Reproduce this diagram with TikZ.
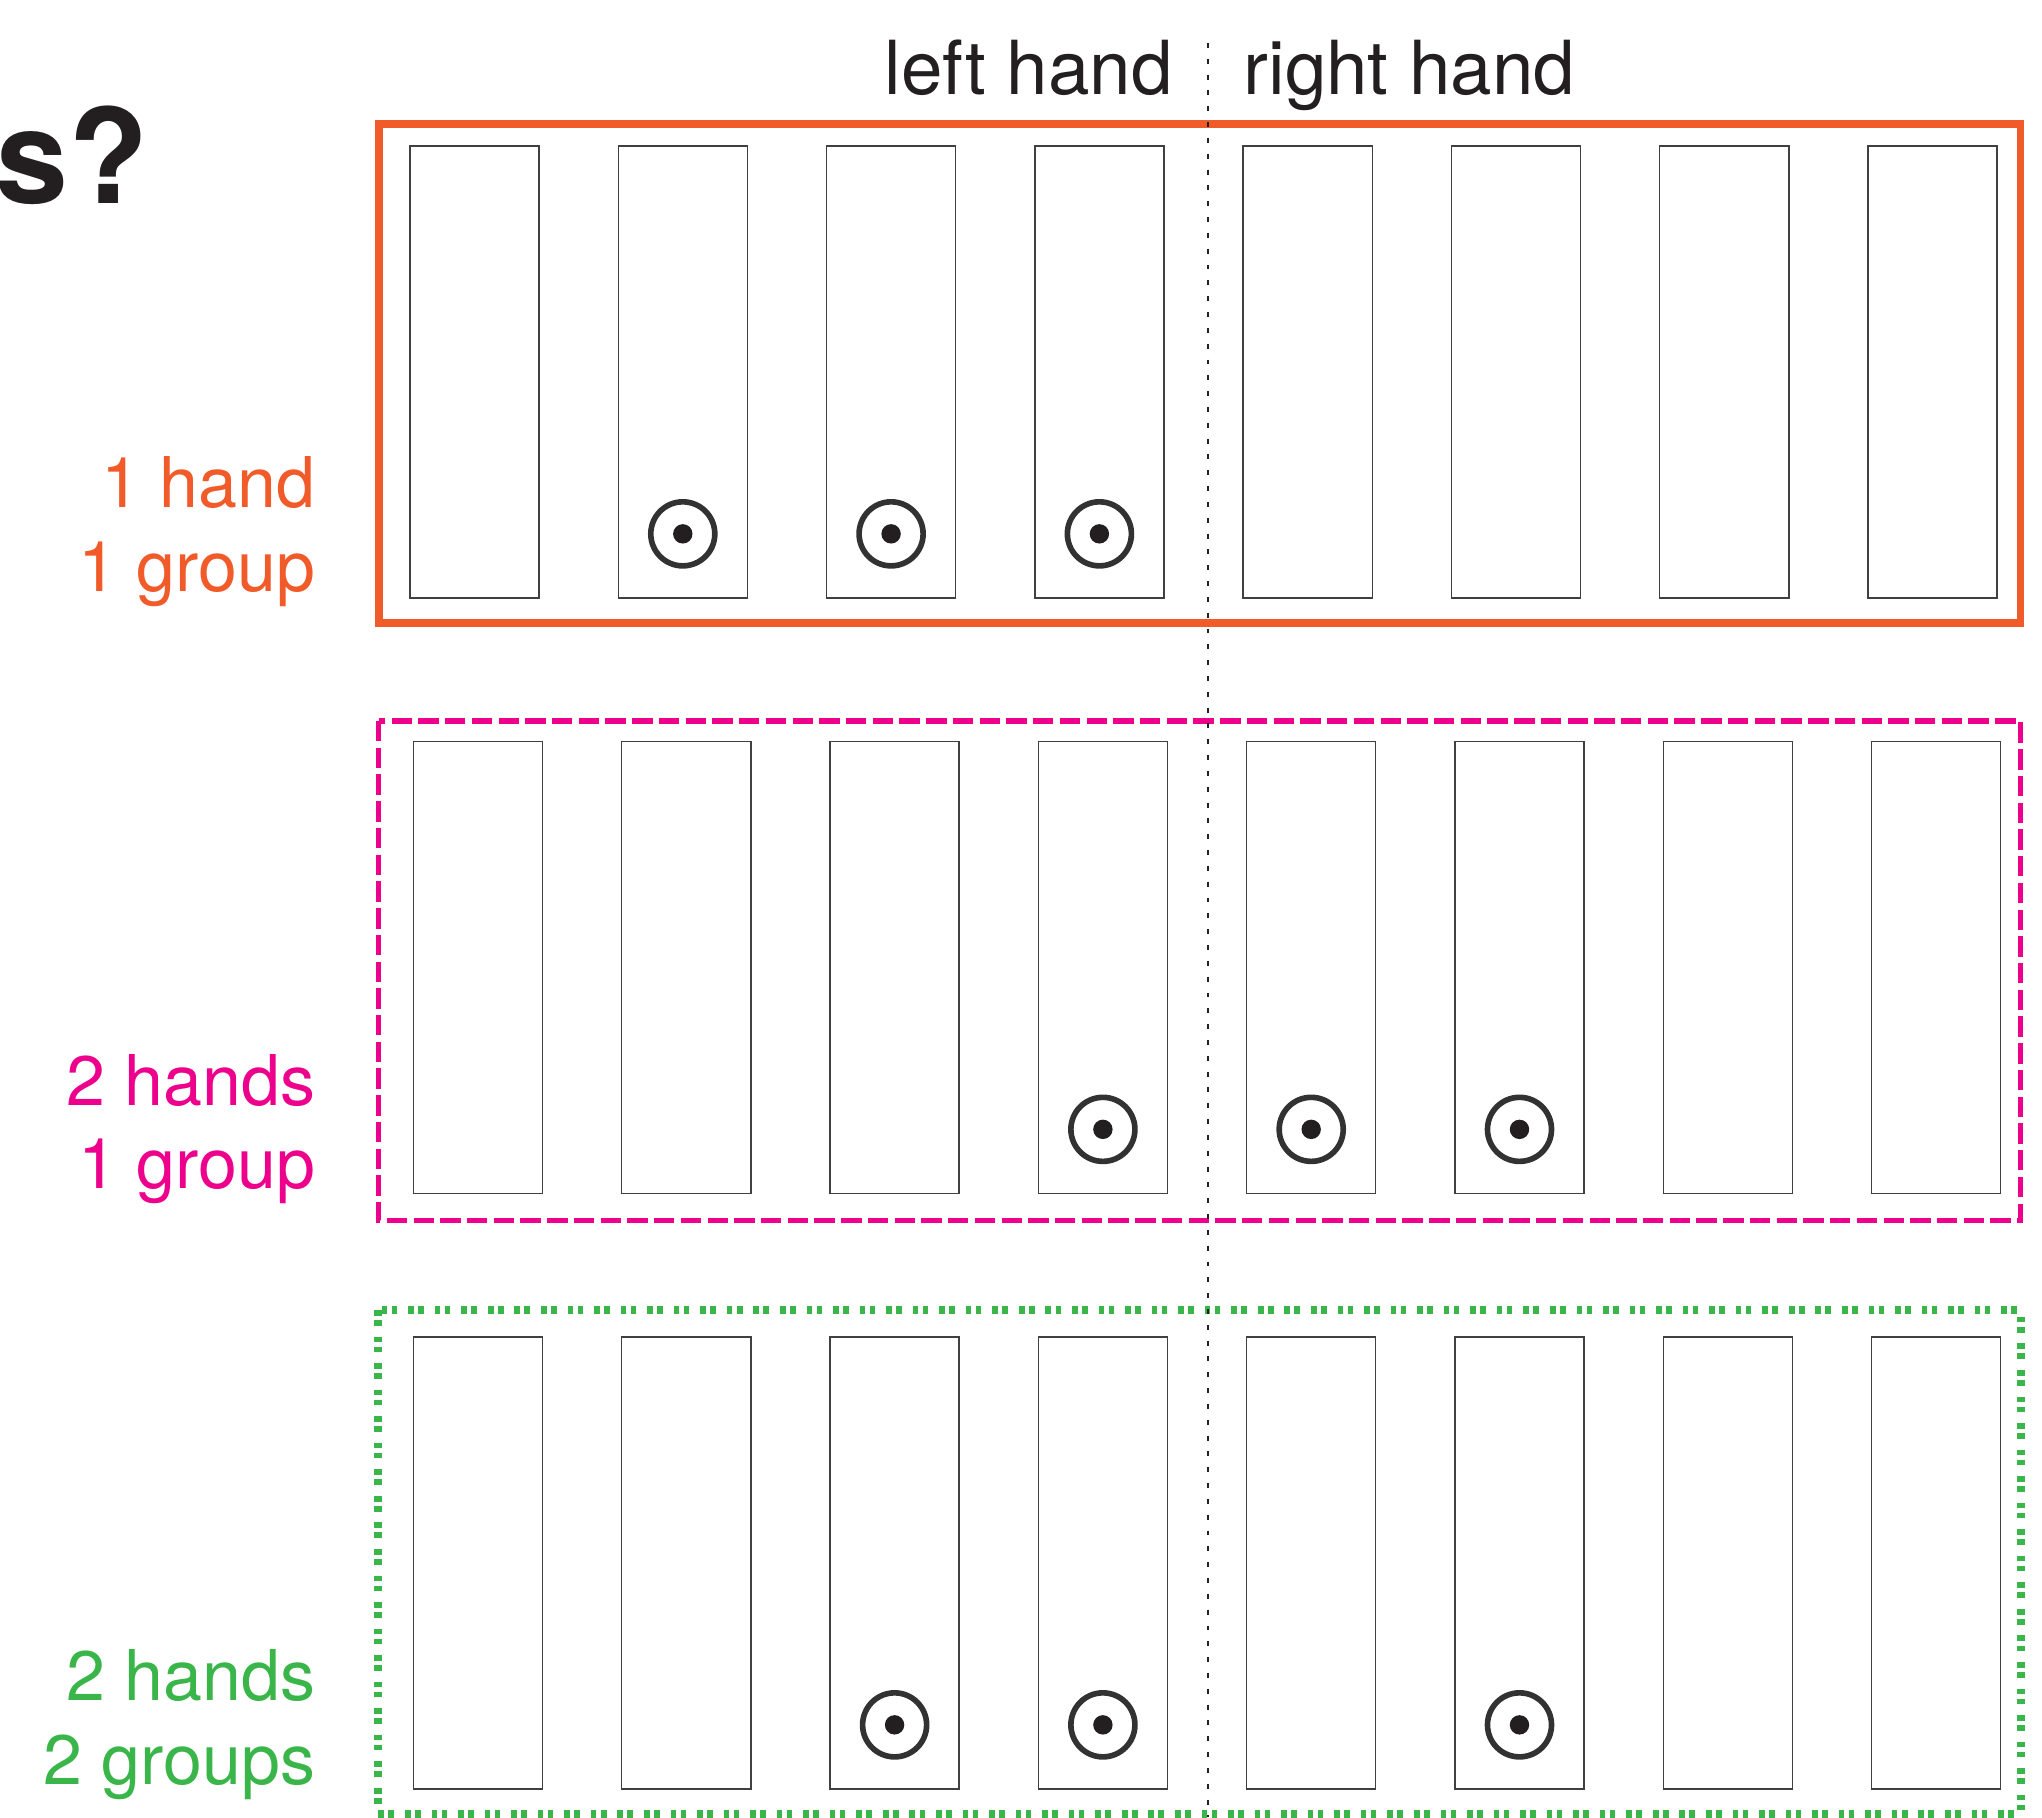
\documentclass[tikz,border=0pt]{standalone}
\usepackage{fontspec}
\setmainfont{TeX Gyre Heros}
\usetikzlibrary{positioning,calc}
\definecolor{HandOrange}{RGB}{241,90,41}
\definecolor{HandPink}{RGB}{236,0,140}
\definecolor{HandGreen}{RGB}{57,181,74}
\definecolor{InkBlack}{RGB}{35,31,32}
\definecolor{RingGray}{RGB}{50,50,50}
\tikzset{
  key/.style={draw=black!75,line width=0.4pt,inner sep=0pt,minimum width=1.29cm,minimum height=4.52cm},
  press/.style={circle,draw=RingGray,line width=1.6pt,inner sep=0pt,minimum size=6.4mm,
    path picture={\fill[InkBlack] (path picture bounding box.center) circle (0.97mm);}},
  onegroup/.style={draw=HandOrange,line width=2.1pt},
  twohands/.style={draw=HandPink,line width=1.45pt,dash pattern=on 5.8pt off 1.8pt},
  twogroups/.style={draw=HandGreen,line width=2.2pt,dash pattern=on 1.6pt off 1.25pt on 1.6pt off 3.1pt},
}
\tikzset{hand/.style={font=\fontsize{21.2}{26}\selectfont,text=InkBlack,inner sep=0pt,anchor=base west},
  rowlab/.style={font=\fontsize{19.9}{24}\selectfont,inner sep=0pt,anchor=base east},
  divider/.style={draw=InkBlack,line width=0.65pt,dash pattern=on 1.4pt off 3.1pt}}

\begin{document}
\begin{tikzpicture}[x=0.01cm,y=-0.01cm]
\useasboundingbox (0,0) rectangle (2042,1817);
% group frames
\draw[onegroup] (379,124) rectangle (2020.5,623);
\draw[twohands] (378.5,721) rectangle (2020.5,1220.5);
\draw[twogroups] (378,1310) rectangle (2021,1814);
% keys, eight per row
\foreach \i in {1,...,8}{
  \node[key] (a\i) at ({474.5+208.3*(\i-1)},372) {};
  \node[key] (b\i) at ({478+208.3*(\i-1)},967.5) {};
  \node[key] (c\i) at ({478+208.3*(\i-1)},1563) {};
}
\node[press] (pa2) at ($(a2.south)+(0,-65)$) {};
\node[press] (pa3) at ($(a3.south)+(0,-65)$) {};
\node[press] (pa4) at ($(a4.south)+(0,-65)$) {};
\node[press] (pb4) at ($(b4.south)+(0,-65)$) {};
\node[press] (pb5) at ($(b5.south)+(0,-65)$) {};
\node[press] (pb6) at ($(b6.south)+(0,-65)$) {};
\node[press] (pc3) at ($(c3.south)+(0,-65)$) {};
\node[press] (pc4) at ($(c4.south)+(0,-65)$) {};
\node[press] (pc6) at ($(c6.south)+(0,-65)$) {};
% labels
\node[font=\fontsize{37.3}{40}\selectfont\bfseries,text=InkBlack,inner sep=0pt,anchor=base east] (ttl) at (149,203) {s?};
\node[hand] (lh) at (884,94) {left hand};
\node[hand] (rh) at (1243,94) {right hand};
\node[rowlab,text=HandOrange] (r1a) at (316,507) {1 hand};
\node[rowlab,text=HandOrange] (r1b) at (316,591) {1 group};
\node[rowlab,text=HandPink] (r2a) at (316,1105) {2 hands};
\node[rowlab,text=HandPink] (r2b) at (316,1188) {1 group};
\node[rowlab,text=HandGreen] (r3a) at (316,1700) {2 hands};
\node[rowlab,text=HandGreen] (r3b) at (316,1784) {2 groups};
% split between the hands
\coordinate (dtop) at (1207.7,43);
\coordinate (dbot) at (1207.7,1817);
\draw[divider] (dtop) -- (dbot);
\end{tikzpicture}
\end{document}
